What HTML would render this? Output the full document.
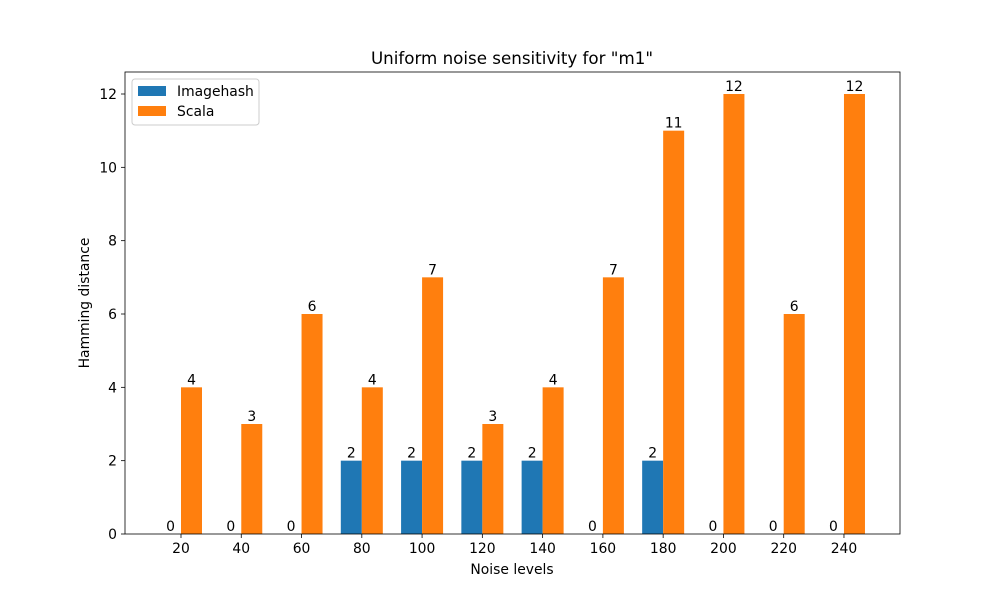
<!DOCTYPE html>
<html><head><meta charset="utf-8"><style>
body{margin:0;background:#fff;}
svg text{font-family:"DejaVu Sans","Liberation Sans",sans-serif;fill:#000;}
</style></head><body>
<svg id="chart" width="1000" height="600" xmlns="http://www.w3.org/2000/svg"></svg>
<script>
const categories = ["20","40","60","80","100","120","140","160","180","200","220","240"];
const imagehash = [0,0,0,2,2,2,2,0,2,0,0,0];
const scala = [4,3,6,4,7,3,4,7,11,12,6,12];
const yTicks = [0,2,4,6,8,10,12];

const NS="http://www.w3.org/2000/svg";
const svg=document.getElementById('chart');
const L=125,R=900,T=72,B=534;
const yMax=12.6;
const step=60.27, x0=181;
function xc(i){return x0+i*step;}
function y(v){return B-(v/yMax)*(B-T);}
const bw=21;
function el(tag,attrs,txt){const e=document.createElementNS(NS,tag);for(const k in attrs)e.setAttribute(k,attrs[k]);if(txt!==undefined)e.textContent=txt;svg.appendChild(e);return e;}

const title=el('text',{x:512,y:64,'text-anchor':'middle','font-size':16.7},'Uniform noise sensitivity for "m1"');



categories.forEach((c,i)=>{
  const a=el('rect',{x:xc(i)-bw,y:y(imagehash[i]),width:bw,height:B-y(imagehash[i]),fill:'#1f77b4'});
  
  
  const b=el('rect',{x:xc(i),y:y(scala[i]),width:bw,height:B-y(scala[i]),fill:'#ff7f0e'});
  
  
  const la=el('text',{x:xc(i)-bw/2,y:y(imagehash[i])-3,'text-anchor':'middle','font-size':13.9},String(imagehash[i]));
  
  
  const lb=el('text',{x:xc(i)+bw/2,y:y(scala[i])-3,'text-anchor':'middle','font-size':13.9},String(scala[i]));
  
  
  el('line',{x1:xc(i),x2:xc(i),y1:B,y2:B+4,stroke:'#000','stroke-width':0.8});
  const t=el('text',{x:xc(i),y:B+19,'text-anchor':'middle','font-size':13.9},c);
  
  
});
yTicks.forEach(v=>{
  el('line',{x1:L-4,x2:L,y1:y(v),y2:y(v),stroke:'#000','stroke-width':0.8});
  const t=el('text',{x:L-8,y:y(v)+5,'text-anchor':'end','font-size':13.9},String(v));
  
  
});
const frame=el('rect',{x:L,y:T,width:R-L,height:B-T,fill:'none',stroke:'#000','stroke-width':0.8});


const xl=el('text',{x:512,y:574,'text-anchor':'middle','font-size':13.9},'Noise levels');


const yl=el('text',{x:89,y:303,'text-anchor':'middle','font-size':13.9,transform:'rotate(-90 89 303)'},'Hamming distance');



const lg=el('rect',{x:132,y:79,width:127,height:46,rx:3,fill:'#fff',stroke:'#ccc','stroke-width':1});


el('rect',{x:138,y:86,width:28,height:10,fill:'#1f77b4'});
const l1=el('text',{x:177,y:96,'font-size':13.9},'Imagehash');


el('rect',{x:138,y:106,width:28,height:10,fill:'#ff7f0e'});
const l2=el('text',{x:177,y:116,'font-size':13.9},'Scala');


</script>
</body></html>
